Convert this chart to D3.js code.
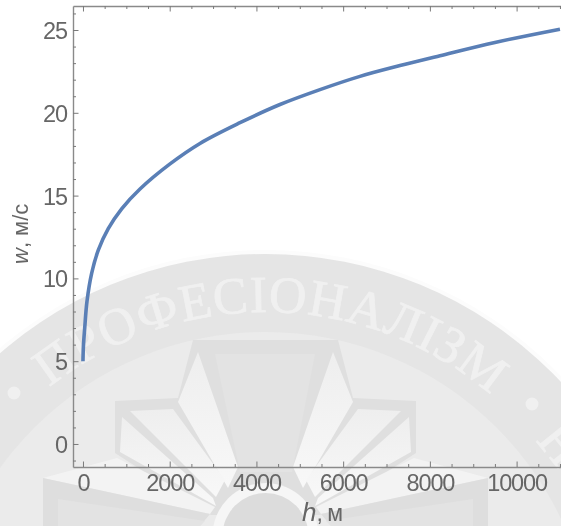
<!DOCTYPE html>
<html><head><meta charset="utf-8">
<script src="https://cdn.jsdelivr.net/npm/d3@7/dist/d3.min.js"></script>
<style>
html,body{margin:0;padding:0;background:#fff;overflow:hidden}
svg{display:block;filter:blur(0.45px)}
text{font-family:"Liberation Sans",sans-serif}
</style></head><body>
<svg id="c" width="561" height="526"></svg>
<script>
const heights=[0,10,40,92,200,353,583,892,1315,2000,2698,3621,4543,5466,6388,7311,8233,9500,11000];
const speeds=[5,5.9,7.0,8.6,10.3,11.7,13.0,14.2,15.4,16.9,18.15,19.4,20.5,21.4,22.2,22.85,23.45,24.25,25.05];
const xMajor=[0,2000,4000,6000,8000,10000];
const yMajor=[0,5,10,15,20,25];
const xLabel="м", yLabel="w, м/с";
const sealText="ПРОФЕСІОНАЛІЗМ";

const svg=d3.select("#c");
const x=d3.scaleLinear().domain([-230,11070]).range([73,563]);
const y=d3.scaleLinear().domain([-1.39,26.45]).range([467,6]);

// Watermark seal behind the chart
const wm=svg.append("g");
const cx=265.5, cy=659;
const defs=svg.append("defs");
const grad=defs.append("linearGradient").attr("id","wing").attr("x1",0).attr("y1",0).attr("x2",0).attr("y2",1);
grad.append("stop").attr("offset",0).attr("stop-color","#eeeeee");
grad.append("stop").attr("offset",1).attr("stop-color","#f8f8f8");
wm.append("circle").attr("cx",cx).attr("cy",cy).attr("r",409).attr("fill","#fcfcfc");
wm.append("circle").attr("cx",cx).attr("cy",cy).attr("r",405).attr("fill","#e5e5e5");
wm.append("circle").attr("cx",cx).attr("cy",cy).attr("r",327).attr("fill","#ebebeb");
const poly=(pts,fill)=>{
  wm.append("polygon").attr("points",pts.map(p=>p.join(",")).join(" ")).attr("fill",fill);
};
const mirror=pts=>pts.map(([a,b])=>[2*cx-a,b]);
const both=(pts,fill)=>{poly(pts,fill);poly(mirror(pts),fill);};
// frame and centre panel
poly([[193,340],[338,340],[353,398],[416,401],[416,453],[320,515],[211,515],[115,453],[115,401],[178,398]],"#dfdfdf");
poly([[215,354],[315,354],[292,472],[240,472]],"#e3e3e3");
both([[198,352],[238,467],[228,488],[178,402]],"url(#wing)");
both([[130,411],[173,409],[225,480],[216,497]],"url(#wing)");
both([[122,417],[213,498],[216,506],[120,452]],"url(#wing)");
both([[43,478],[117,458],[215,507],[210,514]],"#f3f3f3");
both([[43,478],[210,514],[200,526],[43,526]],"#dedede");
both([[58,499],[205,521],[200,526],[58,526]],"#e3e3e3");
wm.append("circle").attr("cx",cx).attr("cy",536).attr("r",53).attr("fill","#f6f6f6");
wm.append("circle").attr("cx",cx).attr("cy",536).attr("r",43).attr("fill","#dcdcdc");
// seal lettering
const R=347;
const arc=d3.path(); arc.arc(cx,cy,R,-Math.PI*0.98,-Math.PI*0.02);
defs.append("path").attr("id","ring").attr("d",arc.toString());
const sealStyle=s=>s.attr("fill","#f0f0f0").attr("stroke","#f0f0f0").attr("stroke-width",0.7).attr("font-size",52)
  .style("font-family",'"Liberation Serif",serif');
const seal=wm.append("text").call(sealStyle).attr("letter-spacing",0.8);
seal.append("textPath").attr("href","#ring").attr("startOffset","50.6%").attr("text-anchor","middle").text(sealText);
wm.append("text").call(sealStyle)
  .attr("transform",`translate(${cx+R*Math.sin(0.89)},${cy-R*Math.cos(0.89)}) rotate(51)`).text("Н");
wm.append("text").call(sealStyle).attr("text-anchor","end")
  .attr("transform",`translate(${cx-R*Math.sin(0.89)},${cy-R*Math.cos(0.89)}) rotate(-51)`).text("Н");
[[14,393],[532,404]].forEach(([a,b])=>wm.append("circle").attr("cx",a).attr("cy",b).attr("r",6.5).attr("fill","#f0f0f0"));

// Axes
const xTicks=d3.range(0,11001,500), yTicks=d3.range(-1,27);
const isX=d=>xMajor.includes(d), isY=d=>yMajor.includes(d);
const axisColor="#8a8a8a", tickColor="#7a7a7a", textColor="#666";
function style(g,major,vertical,dir){
  g.select(".domain").attr("stroke",axisColor).attr("stroke-width",1.4);
  g.selectAll(".tick line").attr("stroke",tickColor).attr("stroke-width",1)
    .each(function(d){
      const len=(major(d)?5.5:3)*dir;
      d3.select(this).attr(vertical?"x2":"y2",len);
    });
  g.selectAll("text").attr("fill",textColor).attr("font-size",23.5).attr("letter-spacing",-1.1);
}
const ax=svg.append("g").attr("transform","translate(0,467)")
  .call(d3.axisBottom(x).tickValues(xTicks).tickSizeOuter(0).tickFormat(d=>isX(d)?d:""));
style(ax,isX,false,-1);
ax.selectAll("text").attr("y",7).attr("dy","0.71em");
const axTop=svg.append("g").attr("transform","translate(0,6)")
  .call(d3.axisTop(x).tickValues(xTicks).tickSizeOuter(0).tickFormat(""));
style(axTop,isX,false,1);
const ay=svg.append("g").attr("transform","translate(73,0)")
  .call(d3.axisLeft(y).tickValues(yTicks).tickSizeOuter(0).tickFormat(d=>isY(d)?d:""));
style(ay,isY,true,1);
ay.selectAll("text").attr("x",-6).attr("dy","0.36em");

// Curve
const line=d3.line().x((d,i)=>x(heights[i])).y(d=>y(d)).curve(d3.curveCatmullRom.alpha(0.5));
svg.append("path").attr("d",line(speeds)).attr("fill","none").attr("stroke","#5a7fb6").attr("stroke-width",3.6);

// Axis titles
const xt=svg.append("text").attr("x",302).attr("y",521).attr("fill",textColor).attr("font-size",23);
xt.append("tspan").attr("font-style","italic").attr("font-size",26).text("h");
xt.append("tspan").text(", ").attr("letter-spacing",-1);
xt.append("tspan").text(xLabel);
const yt=svg.append("text").attr("transform","translate(28,264) rotate(-90)").attr("fill",textColor).attr("font-size",22);
yt.append("tspan").attr("font-style","italic").text(yLabel.slice(0,1));
yt.append("tspan").text(yLabel.slice(1));
</script></body></html>
